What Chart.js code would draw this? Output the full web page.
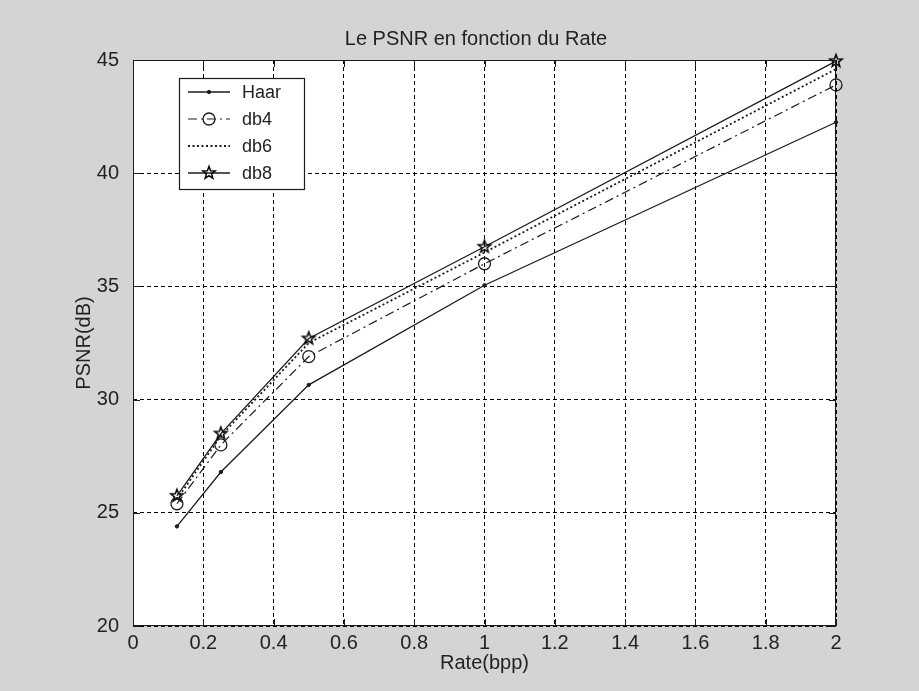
<!DOCTYPE html>
<html>
<head>
<meta charset="utf-8">
<script src="https://cdn.jsdelivr.net/npm/chart.js@4.4.1/dist/chart.umd.min.js"></script>
<style>
  html, body { margin: 0; padding: 0; background: #d4d4d4; }
  #wrap { width: 919px; height: 691px; position: relative; }
  canvas { display: block; }
</style>
</head>
<body>
<div id="wrap"><canvas id="psnr" width="919" height="691"></canvas></div>
<script>
// Rate (bits per pixel) and PSNR (dB) for each wavelet
const rateBpp  = [0.125, 0.25, 0.5, 1, 2];
const psnrHaar = [24.4, 26.8, 30.65, 35.05, 42.25];
const psnrDb4  = [25.4, 28.0, 31.9, 36.0, 43.9];
const psnrDb6  = [25.6, 28.4, 32.5, 36.5, 44.6];
const psnrDb8  = [25.75, 28.5, 32.7, 36.75, 44.95];

const seriesNames = ['Haar', 'db4', 'db6', 'db8'];
const xTickLabels = ['0', '0.2', '0.4', '0.6', '0.8', '1', '1.2', '1.4', '1.6', '1.8', '2'];
const yTickLabels = ['20', '25', '30', '35', '40', '45'];

const titleText = 'Le PSNR en fonction du Rate';
const xTitleText = 'Rate(bpp)';
const yTitleText = 'PSNR(dB)';

const INK = '#1c1c1c';
const TEXT = '#222222';
const FONT = '"Liberation Sans", Arial, sans-serif';

// Outlined five-point star used as the db8 marker
function makePentagram(r, lw) {
  const s = Math.ceil(2 * r + 2 * lw + 2);
  const cv = document.createElement('canvas');
  cv.width = s; cv.height = s;
  const g = cv.getContext('2d');
  g.strokeStyle = '#000000';
  g.lineWidth = lw;
  g.lineJoin = 'miter';
  g.beginPath();
  for (let i = 0; i < 10; i++) {
    const a = -Math.PI / 2 + i * Math.PI / 5;
    const rr = i % 2 === 0 ? r : r * 0.42;
    const px = s / 2 + rr * Math.cos(a);
    const py = s / 2 + rr * Math.sin(a);
    if (i === 0) g.moveTo(px, py); else g.lineTo(px, py);
  }
  g.closePath();
  g.stroke();
  return cv;
}
const starImg = makePentagram(6.5, 1.5);

function toPoints(ys) { return rateBpp.map((x, i) => ({ x: x, y: ys[i] })); }

// Page background, white plot area
const backdrop = {
  id: 'backdrop',
  beforeDraw(chart) {
    const { ctx, chartArea: a } = chart;
    ctx.save();
    ctx.fillStyle = '#d4d4d4';
    ctx.fillRect(0, 0, chart.width, chart.height);
    ctx.fillStyle = '#ffffff';
    ctx.fillRect(a.left, a.top, a.right - a.left, a.bottom - a.top);
    ctx.restore();
  }
};

// Solid box around the axes with inward tick marks on all four sides
const axesBox = {
  id: 'axesBox',
  afterDatasetsDraw(chart) {
    const { ctx, chartArea: a, scales } = chart;
    const len = 7;
    ctx.save();
    ctx.strokeStyle = INK;
    ctx.lineWidth = 1;
    ctx.setLineDash([]);
    ctx.strokeRect(a.left + 0.5, a.top + 0.5, a.right - a.left - 1, a.bottom - a.top - 1);
    ctx.beginPath();
    scales.x.ticks.forEach(t => {
      const px = Math.round(scales.x.getPixelForValue(t.value)) + 0.5;
      ctx.moveTo(px, a.bottom); ctx.lineTo(px, a.bottom - len);
      ctx.moveTo(px, a.top); ctx.lineTo(px, a.top + len);
    });
    scales.y.ticks.forEach(t => {
      const py = Math.round(scales.y.getPixelForValue(t.value)) + 0.5;
      ctx.moveTo(a.left, py); ctx.lineTo(a.left + len, py);
      ctx.moveTo(a.right, py); ctx.lineTo(a.right - len, py);
    });
    ctx.stroke();
    ctx.restore();
  }
};

// Chart title above the axes
const topTitle = {
  id: 'topTitle',
  afterDraw(chart) {
    const ctx = chart.ctx;
    ctx.save();
    ctx.fillStyle = TEXT;
    ctx.font = '20px ' + FONT;
    ctx.textAlign = 'center';
    ctx.textBaseline = 'middle';
    ctx.fillText(titleText, 476, 39);
    ctx.restore();
  }
};

// Boxed legend inside the upper-left corner of the axes
const boxLegend = {
  id: 'boxLegend',
  afterDraw(chart) {
    const ctx = chart.ctx;
    const a = chart.chartArea;
    const bx = a.left + 46, by = a.top + 18, bw = 126, bh = 112;
    ctx.save();
    ctx.fillStyle = '#ffffff';
    ctx.fillRect(bx, by, bw, bh);
    ctx.strokeStyle = INK;
    ctx.lineWidth = 1.2;
    ctx.setLineDash([]);
    ctx.strokeRect(bx + 0.5, by + 0.5, bw - 1, bh - 1);
    ctx.font = '18px ' + FONT;
    ctx.textBaseline = 'middle';
    ctx.textAlign = 'left';
    chart.data.datasets.forEach((ds, i) => {
      const y = by + 14 + i * 27;
      const x0 = bx + 9, x1 = bx + 51;
      ctx.strokeStyle = ds.borderColor;
      ctx.lineWidth = ds.borderWidth;
      ctx.setLineDash(ds.borderDash || []);
      ctx.beginPath();
      ctx.moveTo(x0, y); ctx.lineTo(x1, y);
      ctx.stroke();
      ctx.setLineDash([]);
      if (ds.pointRadius > 0) {
        ctx.strokeStyle = ds.pointBorderColor;
        ctx.fillStyle = ds.pointBackgroundColor;
        ctx.lineWidth = ds.pointBorderWidth;
        Chart.helpers.drawPoint(ctx, {
          pointStyle: ds.pointStyle,
          radius: ds.pointRadius,
          rotation: 0,
          borderWidth: ds.pointBorderWidth
        }, (x0 + x1) / 2, y);
      }
      ctx.fillStyle = TEXT;
      ctx.fillText(ds.label, bx + 63, y + 1);
    });
    ctx.restore();
  }
};

const datasets = [
  {
    label: seriesNames[0], data: toPoints(psnrHaar),
    borderColor: INK, borderWidth: 1.3, borderDash: [],
    pointStyle: 'circle', pointRadius: 1.7, pointBorderWidth: 1,
    pointBorderColor: INK, pointBackgroundColor: INK
  },
  {
    label: seriesNames[1], data: toPoints(psnrDb4),
    borderColor: INK, borderWidth: 1.2, borderDash: [9, 4, 2, 4],
    pointStyle: 'circle', pointRadius: 6, pointBorderWidth: 1.3,
    pointBorderColor: INK, pointBackgroundColor: 'rgba(0,0,0,0)'
  },
  {
    label: seriesNames[2], data: toPoints(psnrDb6),
    borderColor: INK, borderWidth: 1.8, borderDash: [2, 2.5],
    pointStyle: 'circle', pointRadius: 0, pointBorderWidth: 0,
    pointBorderColor: INK, pointBackgroundColor: INK
  },
  {
    label: seriesNames[3], data: toPoints(psnrDb8),
    borderColor: INK, borderWidth: 1.3, borderDash: [],
    pointStyle: starImg, pointRadius: 7, pointBorderWidth: 1,
    pointBorderColor: INK, pointBackgroundColor: 'rgba(0,0,0,0)'
  }
].map(d => Object.assign(d, { showLine: true, fill: false, tension: 0, clip: false }));

new Chart(document.getElementById('psnr'), {
  type: 'scatter',
  data: { datasets },
  options: {
    responsive: false,
    animation: false,
    devicePixelRatio: 1,
    layout: { padding: { top: 60, right: 83, left: 0, bottom: 0 } },
    plugins: {
      legend: { display: false },
      title: { display: false },
      tooltip: { enabled: false }
    },
    scales: {
      x: {
        type: 'linear', min: 0, max: 2,
        afterFit(s) { s.height = 65; },
        ticks: {
          stepSize: 0.2, padding: 5, color: TEXT,
          font: { family: FONT, size: 20 },
          maxRotation: 0, autoSkip: false,
          callback: (v, i) => xTickLabels[i]
        },
        grid: { color: '#000000', lineWidth: 1, drawTicks: false },
        border: { display: false, dash: [4, 3] },
        title: {
          display: true, text: xTitleText, color: TEXT,
          font: { family: FONT, size: 20 },
          padding: { top: 0, bottom: 16 }
        }
      },
      y: {
        type: 'linear', min: 20, max: 45,
        afterFit(s) { s.width = 133; },
        ticks: {
          stepSize: 5, padding: 14, color: TEXT,
          font: { family: FONT, size: 20 },
          callback: (v, i) => yTickLabels[i]
        },
        grid: { color: '#000000', lineWidth: 1, drawTicks: false },
        border: { display: false, dash: [4, 3] },
        title: {
          display: true, text: yTitleText, color: TEXT,
          font: { family: FONT, size: 20 },
          padding: { top: 72, bottom: 0 }
        }
      }
    }
  },
  plugins: [backdrop, axesBox, topTitle, boxLegend]
});
</script>
</body>
</html>
